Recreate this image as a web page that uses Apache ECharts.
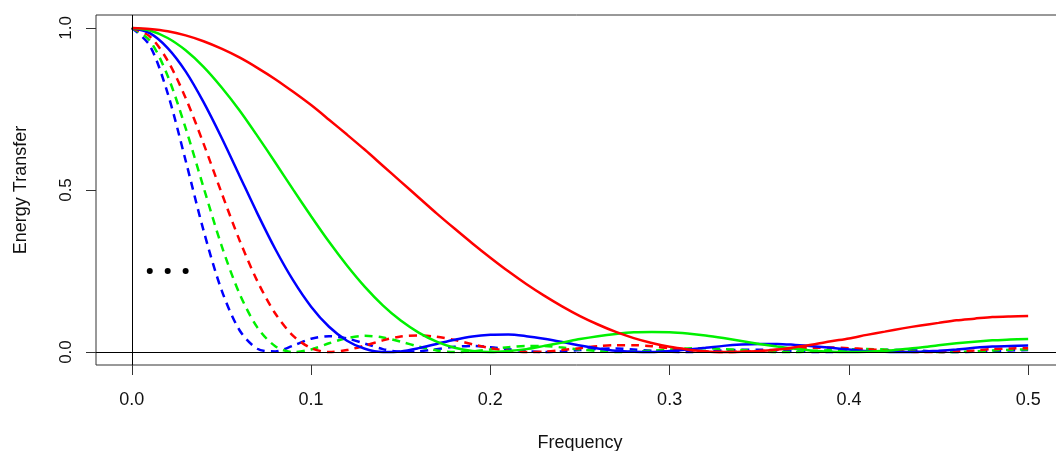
<!DOCTYPE html>
<html>
<head>
<meta charset="utf-8">
<script src="https://cdn.jsdelivr.net/npm/echarts@6/dist/echarts.min.js"></script>
<style>
html,body{margin:0;padding:0;background:#fff;}
#chart{width:1056px;height:451px;}
</style>
</head>
<body>
<div id="chart"></div>
<script>
// Frequencies (x values)
var freq = [0,0.01,0.02,0.03,0.04,0.05,0.06,0.07,0.08,0.09,0.10,0.11,0.12,0.13,0.14,0.15,0.16,0.17,0.18,0.19,0.20,0.21,0.22,0.23,0.24,0.25,0.26,0.27,0.28,0.29,0.30,0.31,0.32,0.33,0.34,0.35,0.36,0.37,0.38,0.39,0.40,0.41,0.42,0.43,0.44,0.45,0.46,0.47,0.48,0.49,0.50];
// Energy transfer curves
var redSolid   = [1,0.997,0.990,0.977,0.959,0.936,0.909,0.877,0.842,0.803,0.762,0.717,0.671,0.624,0.575,0.526,0.477,0.428,0.381,0.335,0.291,0.249,0.210,0.174,0.141,0.111,0.085,0.062,0.043,0.028,0.016,0.008,0.002,0.000,0.001,0.003,0.008,0.015,0.023,0.033,0.042,0.053,0.063,0.073,0.082,0.090,0.098,0.103,0.108,0.110,0.111];
var greenSolid = [1,0.992,0.969,0.931,0.880,0.817,0.746,0.667,0.585,0.501,0.419,0.340,0.267,0.201,0.144,0.097,0.060,0.032,0.013,0.003,0.000,0.003,0.009,0.019,0.029,0.040,0.049,0.056,0.061,0.062,0.061,0.057,0.051,0.043,0.034,0.025,0.017,0.010,0.004,0.001,0.000,0.001,0.004,0.009,0.014,0.021,0.027,0.032,0.036,0.039,0.040];
var blueSolid  = [1,0.984,0.938,0.866,0.771,0.662,0.545,0.428,0.318,0.221,0.140,0.078,0.035,0.010,0.000,0.002,0.012,0.025,0.038,0.048,0.053,0.054,0.049,0.041,0.031,0.020,0.011,0.004,0.001,0.000,0.003,0.008,0.013,0.019,0.023,0.025,0.025,0.022,0.018,0.013,0.008,0.003,0.001,0.000,0.001,0.004,0.008,0.013,0.017,0.019,0.020];
var redDashed  = [1,0.974,0.899,0.784,0.643,0.492,0.346,0.219,0.119,0.050,0.012,0.000,0.006,0.020,0.036,0.048,0.051,0.047,0.037,0.024,0.012,0.004,0.000,0.001,0.006,0.012,0.018,0.021,0.021,0.018,0.012,0.007,0.002,0.000,0.001,0.003,0.007,0.011,0.013,0.014,0.012,0.009,0.005,0.002,0.000,0.000,0.002,0.005,0.009,0.011,0.012];
var greenDashed= [1,0.961,0.852,0.691,0.508,0.329,0.181,0.076,0.018,0.000,0.008,0.027,0.043,0.050,0.045,0.032,0.017,0.005,0.000,0.002,0.008,0.015,0.019,0.019,0.014,0.008,0.003,0.000,0.001,0.004,0.008,0.011,0.012,0.009,0.006,0.002,0.000,0.000,0.003,0.006,0.008,0.009,0.008,0.005,0.002,0.000,0.000,0.002,0.005,0.007,0.008];
var blueDashed = [1,0.946,0.798,0.591,0.375,0.192,0.068,0.010,0.002,0.020,0.041,0.049,0.042,0.026,0.009,0.001,0.002,0.009,0.016,0.019,0.015,0.009,0.003,0.000,0.002,0.006,0.010,0.011,0.008,0.004,0.001,0.000,0.002,0.005,0.007,0.007,0.005,0.002,0.000,0.000,0.002,0.005,0.006,0.006,0.004,0.001,0.000,0.001,0.003,0.005,0.006];
// Three dots
var dotX = [0.01,0.02,0.03];
var dotY = [0.25,0.25,0.25];
// Tick values
var xTicks = [0,0.1,0.2,0.3,0.4,0.5];
var yTicks = [0,0.5,1];

function pairs(xs, ys){ return xs.map(function(x,i){ return [x, ys[i]]; }); }

var FONT = '"Liberation Sans", Arial, sans-serif';
var chart = echarts.init(document.getElementById('chart'), null, {renderer:'canvas'});

function lineSeries(name, data, color, dashed){
  return {
    name: name, type: 'line', data: pairs(freq, data),
    showSymbol: false, smooth: 0.3, silent: true,
    lineStyle: {color: color, width: 2.5, type: dashed ? [8,6] : 'solid'},
    z: 3
  };
}

var option = {
  animation: false,
  backgroundColor: '#fff',
  grid: {left: 96, top: 15, right: -8, bottom: 86, show: true, borderColor: '#333', borderWidth: 1, backgroundColor: 'transparent', containLabel: false, outerBoundsMode: 'none'},
  xAxis: {
    type: 'value', min: -0.02, max: 0.52,
    name: 'Frequency', nameLocation: 'middle', nameGap: 69,
    nameTextStyle: {fontFamily: FONT, fontSize: 18, color: '#111'},
    axisLine: {show: false, onZero: false},
    axisTick: {show: true, length: 10, customValues: xTicks, lineStyle: {color: '#333', width: 1}},
    axisLabel: {customValues: xTicks, formatter: function(v){ return v.toFixed(1); }, fontFamily: FONT, fontSize: 18, color: '#111', margin: 26},
    splitLine: {show: false}
  },
  yAxis: {
    type: 'value', min: -0.04, max: 1.04,
    name: 'Energy Transfer', nameLocation: 'middle', nameGap: 66,
    nameTextStyle: {fontFamily: FONT, fontSize: 18, color: '#111'},
    axisLine: {show: false, onZero: false},
    axisTick: {show: true, length: 10, customValues: yTicks, lineStyle: {color: '#333', width: 1}},
    axisLabel: {customValues: yTicks, rotate: 90, formatter: function(v){ return v.toFixed(1); }, fontFamily: FONT, fontSize: 17, color: '#111', margin: 21},
    splitLine: {show: false}
  },
  series: [
    {
      type: 'scatter', data: pairs(dotX, dotY), symbolSize: 6, silent: true,
      itemStyle: {color: '#000', opacity: 1}, z: 2,
      markLine: {
        silent: true, symbol: ['none','none'], label: {show: false},
        lineStyle: {color: '#000', width: 1, type: 'solid'},
        data: [{xAxis: 0}, {yAxis: 0}]
      }
    },
    lineSeries('blueDashed', blueDashed, '#0000ff', true),
    lineSeries('greenDashed', greenDashed, '#00f000', true),
    lineSeries('redDashed', redDashed, '#ff0000', true),
    lineSeries('blueSolid', blueSolid, '#0000ff', false),
    lineSeries('greenSolid', greenSolid, '#00f000', false),
    lineSeries('redSolid', redSolid, '#ff0000', false)
  ]
};
chart.setOption(option);
</script>
</body>
</html>
